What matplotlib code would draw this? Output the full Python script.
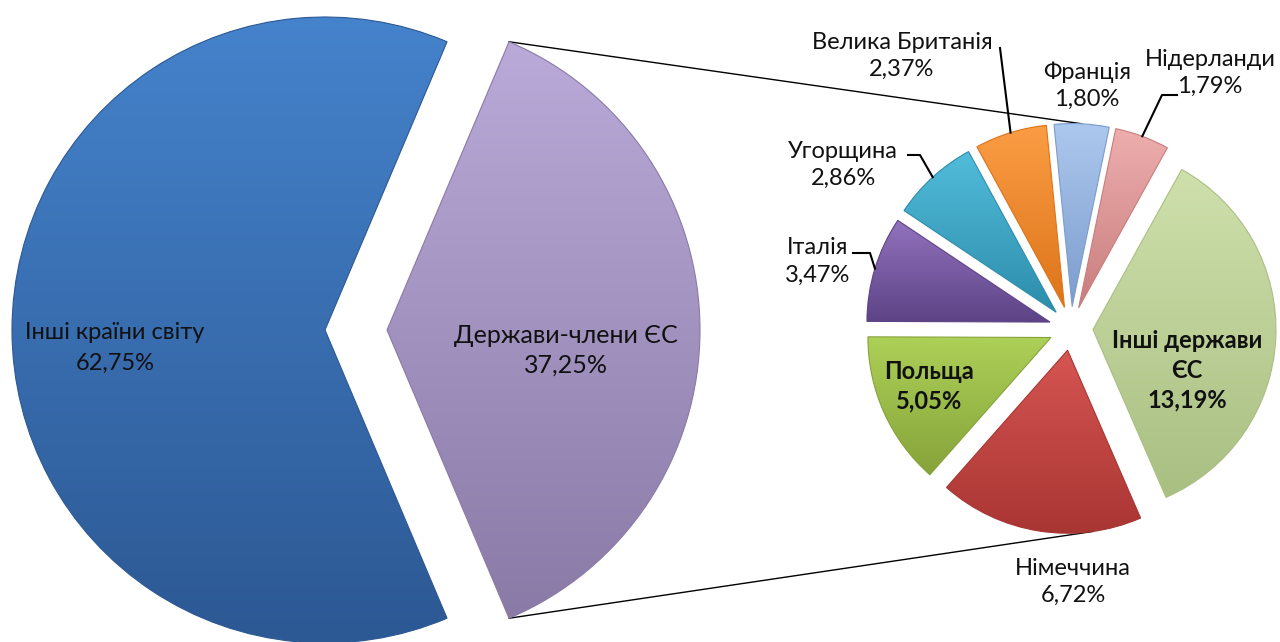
import numpy as np
import matplotlib.pyplot as plt
from matplotlib.colors import LinearSegmentedColormap

plt.rcParams['font.family'] = ['Lato', 'Noto Sans', 'DejaVu Sans']

# дані
main_labels = ['Інші країни світу', 'Держави-члени ЄС']
main_values = [62.75, 37.25]
main_top = ['#4583cc', '#baaad9']
main_bottom = ['#2c5893', '#8a7aa6']

eu_labels = ['Інші держави\nЄС', 'Німеччина', 'Польща', 'Італія', 'Угорщина',
             'Велика Британія', 'Франція', 'Нідерланди']
eu_values = [13.19, 6.72, 5.05, 3.47, 2.86, 2.37, 1.80, 1.79]
eu_top = ['#cfe0ac', '#d65552', '#add058', '#9272bd', '#52bcdb', '#fb9d45', '#adc8ee', '#eeaeae']
eu_bottom = ['#a9bf82', '#a83532', '#86a33a', '#5d4386', '#2d8dab', '#dd7419', '#7b9ccd', '#c87d7d']

H = 642  # висота в пікселях, y рахуємо знизу


def pct(v):
    return f'{v:.2f}%'.replace('.', ',')


def shade(ax, w, top, bottom):
    # вертикальний градієнт всередині сектора
    v = w.get_path().vertices
    x0, x1 = v[:, 0].min(), v[:, 0].max()
    y0, y1 = v[:, 1].min(), v[:, 1].max()
    cmap = LinearSegmentedColormap.from_list('g', [bottom, top])
    grad = np.linspace(1, 0, 256).reshape(-1, 1)
    im = ax.imshow(grad, extent=[x0, x1, y0, y1], origin='upper', cmap=cmap,
                   aspect='auto', interpolation='bilinear', zorder=2)
    im.set_clip_path(w)
    w.set_zorder(3)
    w.set_facecolor('none')
    w.set_edgecolor(bottom)
    w.set_linewidth(0.8)


def arc_point(w, ang):
    cx, cy = w.center
    a = np.deg2rad(ang)
    return cx + w.r * np.cos(a), cy + w.r * np.sin(a)


fig = plt.figure(figsize=(12.8, 6.42), dpi=100)
ax = fig.add_axes([0, 0, 1, 1])

# основний круг (explode у пікселях)
main_w, _ = ax.pie(main_values, center=(356, H - 330), radius=313,
                   explode=[31, 31], startangle=main_values[1] / 100 * 180,
                   frame=True)
for w, t, b in zip(main_w, main_top, main_bottom):
    shade(ax, w, t, b)

# вторинний круг
eu_w, _ = ax.pie(eu_values, center=(1071, H - 328.5), radius=183,
                 explode=[22] * len(eu_values), startangle=61,
                 counterclock=False, frame=True)
for w, t, b in zip(eu_w, eu_top, eu_bottom):
    shade(ax, w, t, b)

# лінії-з'єднувачі
purple = main_w[1]
p_top = arc_point(purple, purple.theta2)
p_bot = arc_point(purple, purple.theta1)
q_top = arc_point(eu_w[6], 87)
q_bot = arc_point(eu_w[1], -82)
ax.plot([p_top[0], q_top[0]], [p_top[1], q_top[1]], color='black', lw=1.0, zorder=1)
ax.plot([p_bot[0], q_bot[0]], [p_bot[1], q_bot[1]], color='black', lw=1.0, zorder=1)

# підписи основного круга
ax.text(115, H - 348, f'{main_labels[0]}\n{pct(main_values[0])}', ha='center', va='center',
        fontsize=17, linespacing=1.55, color='#111111', zorder=5)
ax.text(566, H - 350, f'{main_labels[1]}\n{pct(main_values[1])}', ha='center', va='center',
        fontsize=18, linespacing=1.35, color='#111111', zorder=5)

# підписи вторинного круга: центр тексту (px)
label_pos = [(1187, 370), (1073, 582), (929, 386.5), (818, 261.5), (843, 165),
             (902, 56), (1087, 86), (1210, 73)]
bold = [True, False, True, False, False, False, False, False]
for lab, val, (x, y), b in zip(eu_labels, eu_values, label_pos, bold):
    ax.text(x, H - y, f'{lab}\n{pct(val)}', ha='center', va='center', fontsize=17,
            linespacing=1.36, color='#111111', fontweight='bold' if b else 'normal', zorder=5)

# виносні лінії: індекс сектора, точки ламаної від тексту (px)
leaders = [
    (5, [(1000, 48)]),
    (7, [(1177, 95), (1162, 95)]),
    (4, [(908, 155), (920, 155)]),
    (3, [(853, 253), (870, 253)]),
]
for i, pts in leaders:
    w = eu_w[i]
    end = arc_point(w, (w.theta1 + w.theta2) / 2)
    xs = [p[0] for p in pts] + [end[0]]
    ys = [H - p[1] for p in pts] + [end[1]]
    ax.plot(xs, ys, color='black', lw=1.5, zorder=4)

ax.set_xlim(0, 1280)
ax.set_ylim(0, H)
ax.set_aspect('equal')
ax.axis('off')

fig.savefig('out.png', dpi=100)
